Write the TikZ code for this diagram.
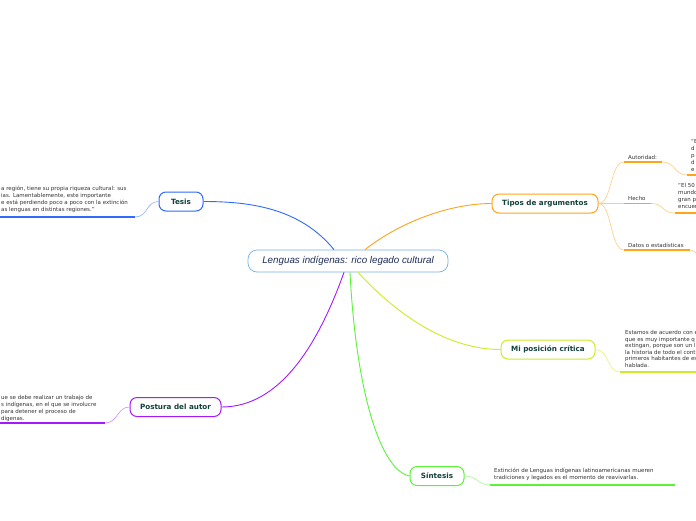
\documentclass[tikz,border=0pt]{standalone}
\usepackage{fontspec}
\setmainfont{DejaVu Sans}
\newfontfamily\titlefont{Liberation Sans}
\definecolor{centralblue}{HTML}{78B2E0}
\definecolor{titlenavy}{HTML}{1F2D5A}
\definecolor{tesisblue}{HTML}{2F6BFF}
\definecolor{tesisthin}{HTML}{8FAEFF}
\definecolor{tiposorange}{HTML}{FFA31A}
\definecolor{tiposthin}{HTML}{FFCC80}
\definecolor{posturapurple}{HTML}{A31AFF}
\definecolor{posturathin}{HTML}{CC8CFF}
\definecolor{criticagreen}{HTML}{CCEE22}
\definecolor{criticathin}{HTML}{E2F57A}
\definecolor{sintesisgreen}{HTML}{5CF23A}
\definecolor{sintesisthin}{HTML}{A6F890}
\definecolor{topictext}{HTML}{12403A}
\definecolor{notegray}{HTML}{333333}
\tikzset{
  topic/.style={draw, rounded corners=7pt, line width=1pt, text=topictext,
    font=\bfseries\fontsize{7.2}{8}\selectfont, inner sep=0pt, minimum height=19pt},
  note/.style={anchor=north west, align=left, inner sep=0pt, text=notegray,
    font=\fontsize{5.5}{7}\selectfont},
  tag/.style={anchor=south west, inner sep=0pt, text=notegray,
    font=\fontsize{5.5}{7}\selectfont},
  branch/.style={line width=0.9pt},
  twig/.style={line width=0.6pt},
  underline/.style={line width=1.8pt}
}
\begin{document}
\begin{tikzpicture}[x=1pt,y=-1pt]

    \useasboundingbox (0,0) rectangle (696,520);
    \fill[white] (0,0) rectangle (696,520);
    \clip (0,0) rectangle (696,520);

    % centro
    \node[draw=centralblue, rounded corners=9pt, line width=0.7pt, minimum width=200pt,
      minimum height=22pt, inner sep=0pt, text=titlenavy,
      font=\titlefont\itshape\fontsize{9.8}{11}\selectfont] (central) at (348,261)
      {Lenguas indígenas: rico legado cultural};

    % temas
    \node[topic, draw=tesisblue, minimum width=44pt] (tesis) at (181,201.5) {Tesis};
    \node[topic, draw=posturapurple, minimum width=91pt] (postura) at (175.5,407) {Postura del autor};
    \node[topic, draw=tiposorange, minimum width=106pt] (tipos) at (545,203.5) {Tipos de argumentos};
    \node[topic, draw=criticagreen, minimum width=94pt] (critica) at (548,349.5) {Mi posición crítica};
    \node[topic, draw=sintesisgreen, minimum width=54pt] (sintesis) at (437,476) {Síntesis};

    \draw[branch, tesisblue] ([xshift=-14pt]central.north) .. controls (300,208) and (250,201.5) .. (tesis.east);
    \draw[branch, tiposorange] ([xshift=17pt]central.north) .. controls (400,222) and (450,203.5) .. (tipos.west);
    \draw[branch, posturapurple] ([xshift=-4pt]central.south) .. controls (318,345) and (280,407) .. (postura.east);
    \draw[branch, sintesisgreen] ([xshift=2pt]central.south) .. controls (356,390) and (380,470) .. (sintesis.west);
    \draw[branch, criticagreen] ([xshift=10pt]central.south) .. controls (400,318) and (450,349.5) .. (critica.west);

    % Tesis
    \coordinate (tesisline) at (135,217);
    \draw[twig, tesisthin] (tesis.west) .. controls (146,201.5) and (148,217) .. (tesisline);
    \draw[underline, tesisblue] (tesisline) -- (0,217);
    \node[note] (tesistext) at (1,186) {a región, tiene su propia riqueza cultural: sus\\
      ias. Lamentablemente, este importante\\
      e está perdiendo poco a poco con la extinción\\
      as lenguas en distintas regiones.”};

    % Postura del autor
    \coordinate (posturaline) at (105,423);
    \draw[twig, posturathin] (postura.west) .. controls (117,407) and (118,423) .. (posturaline);
    \draw[underline, posturapurple] (posturaline) -- (0,423);
    \node[note] (posturatext) at (1,395) {ue se debe realizar un trabajo de\\
      s indígenas, en el que se involucre\\
      para detener el proceso de\\
      dígenas.};

    % Tipos de argumentos
    \coordinate (autoridad) at (624,162);
    \coordinate (autoridadend) at (662,162);
    \coordinate (autoridadcita) at (687,175);
    \draw[twig, tiposthin] (tipos.east) .. controls (612,203.5) and (610,162) .. (autoridad);
    \draw[underline, tiposorange] (autoridad) -- (autoridadend);
    \node[tag] (autoridadtag) at (628,159.5) {Autoridad:};
    \draw[twig, tiposthin] (autoridadend) .. controls (676,162) and (674,175) .. (autoridadcita);
    \draw[underline, tiposorange] (autoridadcita) -- (700,175);
    \node[note] (autoridadtext) at (691,139) {“E\\d\\p\\d\\e};

    \coordinate (hecho) at (624,203.5);
    \coordinate (hechoend) at (651,203.5);
    \coordinate (hechocita) at (675,213);
    \draw[twig, tiposthin] (tipos.east) -- (hecho);
    \draw[underline, tiposorange] (hecho) -- (hechoend);
    \node[tag] (hechotag) at (628,201) {Hecho};
    \draw[twig, tiposthin] (hechoend) .. controls (664,203.5) and (662,213) .. (hechocita);
    \draw[underline, tiposorange] (hechocita) -- (700,213);
    \node[note] (hechotext) at (678,183) {“El 50\\mundo\\gran p\\encuen};

    \coordinate (datos) at (624,250);
    \coordinate (datosend) at (690,250);
    \draw[twig, tiposthin] (tipos.east) .. controls (612,203.5) and (610,250) .. (datos);
    \draw[underline, tiposorange] (datos) -- (datosend);
    \node[tag] (datostag) at (628,247.5) {Datos o estadísticas};
    \draw[twig, tiposthin] (datosend) .. controls (694,250) and (696,253) .. (700,258);

    % Mi posicion critica
    \coordinate (criticaline) at (620,372);
    \draw[twig, criticathin] (critica.east) .. controls (609,349.5) and (607,372) .. (criticaline);
    \draw[underline, criticagreen] (criticaline) -- (700,372);
    \node[note, font=\fontsize{5.5}{6.65}\selectfont] (criticatext) at (625,330) {Estamos de acuerdo con e\\
      que es muy importante q\\
      extingan, porque son un l\\
      la historia de todo el cont\\
      primeros habitantes de es\\
      hablada.};

    % Sintesis
    \coordinate (sintesisline) at (490,485);
    \draw[twig, sintesisthin] (sintesis.east) .. controls (478,476) and (477,485) .. (sintesisline);
    \draw[underline, sintesisgreen] (sintesisline) -- (675,485);
    \node[note] (sintesistext) at (494,468) {Extinción de Lenguas indígenas latinoamericanas mueren\\
      tradiciones y legados es el momento de reavivarlas.};

\end{tikzpicture}
\end{document}
